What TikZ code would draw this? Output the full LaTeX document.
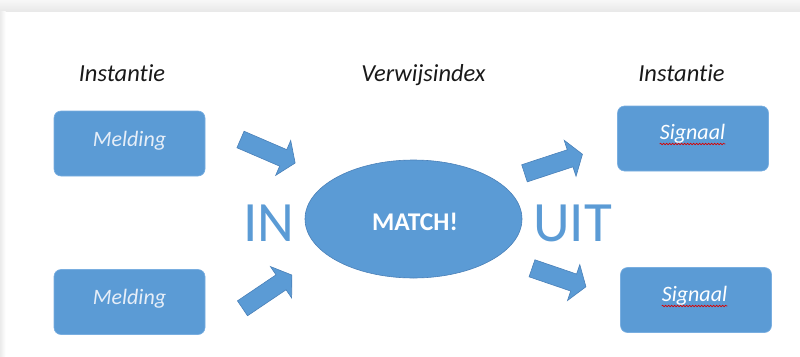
\documentclass[tikz,border=0pt]{standalone}
\usepackage{fontspec}
\setmainfont{Carlito}[Ligatures={NoCommon,NoRare}]
\usetikzlibrary{shapes.geometric,decorations.pathmorphing}
\definecolor{office}{HTML}{5B9BD5}
\definecolor{officedk}{HTML}{4A80B8}
\definecolor{officelt}{HTML}{79AEE0}
\definecolor{txtlt}{HTML}{E6EEF8}
\newcommand{\blockarr}[5]{%
  \draw[arrowshape, shift={(#2,#3)}, rotate=#4] (0,-9) -- ({#5-13},-9) -- ({#5-13},-19) -- (#5,0) -- ({#5-13},19) -- ({#5-13},9) -- (0,9) -- cycle;
  \coordinate (#1) at (#2,#3);}
\tikzset{
  box/.style={draw=officelt, line width=0.6pt, fill=office, rounded corners=7pt, minimum width=151pt, minimum height=65pt, inner sep=0pt},
  boxtxt/.style={inner sep=0pt, anchor=base, text=txtlt, font=\fontsize{22}{26}\selectfont\itshape},
  head/.style={inner sep=0pt, anchor=base, text=black!90, font=\fontsize{24.5}{28}\selectfont\itshape},
  bigtxt/.style={inner sep=0pt, anchor=base west, text=office, font=\fontsize{57}{60}\selectfont},
  arrowshape/.style={fill=office, draw=officedk, line width=0.6pt, line join=miter},
  squiggle/.style={draw=red!85!black, line width=0.6pt, decorate, decoration={snake, amplitude=0.8pt, segment length=3pt}}
}
\begin{document}
\begin{tikzpicture}[x=1pt,y=-1pt]
\useasboundingbox (0,0) rectangle (800,356);
% window shadow
\shade[top color=white!97!black, bottom color=white!91!black] (0,0) rectangle (800,11.5);
\shade[left color=white!92!black, right color=white] (0,11.5) rectangle (5.5,356);
% headings
\node[head] (h1) at (122,81) {Instantie};
\node[head] (h2) at (423.5,81) {Verwijsindex};
\node[head] (h3) at (681.5,81) {Instantie};
% boxes
\node[box] (m1) at (129.5,143.5) {};
\node[boxtxt] (m1t) at (129.5,146) {Melding};
\node[box] (m2) at (129.5,302) {};
\node[boxtxt] (m2t) at (129.5,304.5) {Melding};
\node[box] (s1) at (693,138.5) {};
\node[boxtxt, text=white] (s1t) at (692.5,139.5) {Signaal};
\node[box] (s2) at (696,300) {};
\node[boxtxt, text=white] (s2t) at (694.5,301.5) {Signaal};
\draw[squiggle] ([yshift=-4.5pt]s1t.base west) -- ([yshift=-4.5pt]s1t.base east);
\draw[squiggle] ([yshift=-4.5pt]s2t.base west) -- ([yshift=-4.5pt]s2t.base east);
% ellipse
\node[ellipse, fill=office, draw=officedk, line width=0.6pt, minimum width=217pt, minimum height=118pt, inner sep=0pt] (mt) at (413.5,219) {};
\node[inner sep=0pt, anchor=base, text=white, font=\fontsize{25.5}{28}\selectfont\bfseries] (mtt) at (415,230.5) {MATCH!};
% IN / UIT
\node[bigtxt] (in) at (243,241) {IN};
\node[bigtxt] (uit) at (533,241) {UIT};
% block arrows
\blockarr{a1}{240.5}{139.5}{-23.3}{59.5}
\blockarr{a2}{242.5}{308.3}{34}{59.5}
\blockarr{a3}{524.5}{173.3}{18.2}{61}
\blockarr{a4}{532}{268.3}{-18.9}{57}
\end{tikzpicture}
\end{document}
